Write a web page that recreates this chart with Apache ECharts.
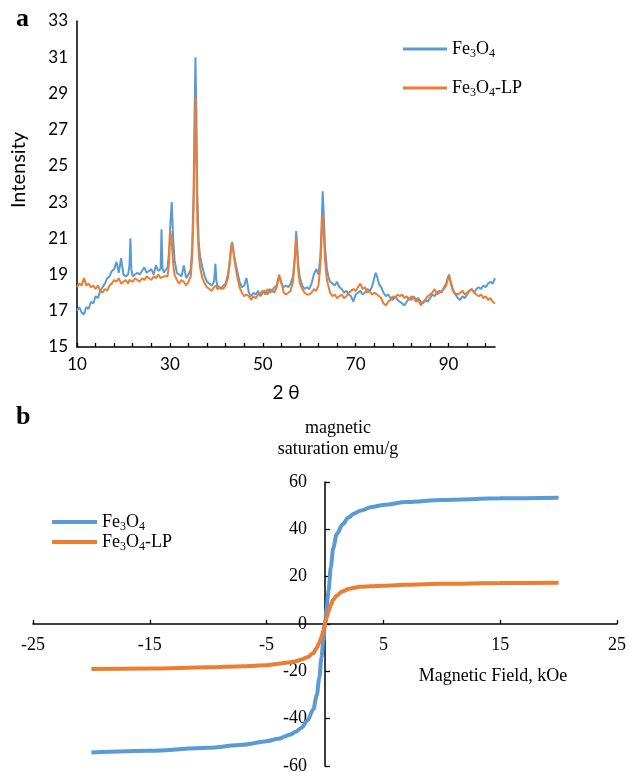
<!DOCTYPE html>
<html>
<head>
<meta charset="utf-8">
<script src="https://cdn.jsdelivr.net/npm/echarts@6/dist/echarts.min.js"></script>
<style>
html,body{margin:0;padding:0;background:#fff;}
#chart{width:629px;height:772px;}
</style>
</head>
<body>
<div id="chart"></div>
<script>
// ---------- Panel a : XRD ----------
const xrdTheta = [
  10,10.5,11,11.5,12,12.5,13,13.5,14,14.5,15,15.5,16,16.5,17,17.5,18,18.5,19,19.5,
  20,20.5,21,21.3,21.5,21.7,22,22.5,23,23.5,24,24.5,25,25.5,26,26.5,27,27.5,28,28.2,28.4,28.7,29,29.5,29.8,
  30.1,30.4,30.7,31,31.5,32,32.5,33,33.5,34,34.5,34.8,35.1,35.3,35.5,35.7,35.9,36.2,36.5,37,37.5,38,38.5,39,39.5,39.8,
  40,40.2,40.5,41,41.5,42,42.5,42.9,43.2,43.4,43.7,44,44.5,45,45.5,46,46.5,47,47.5,48,48.5,49,49.5,
  50,50.5,51,51.5,52,52.5,53,53.5,54,54.5,55,55.5,56,56.5,56.9,57.2,57.4,57.7,58,58.5,59,59.5,
  60,60.5,61,61.5,62,62.4,62.7,62.9,63.1,63.4,63.8,64.2,64.5,65,65.5,66,66.5,67,67.5,68,68.5,69,69.5,
  70,70.5,71,71.5,72,72.5,73,73.5,74,74.3,74.6,75,75.5,76,76.5,77,77.5,78,78.5,79,79.5,
  80,80.5,81,81.5,82,82.5,83,83.5,84,84.5,85,85.5,86,86.5,87,87.5,88,88.5,89,89.5,89.8,
  90.1,90.4,90.8,91.2,91.5,92,92.5,93,93.5,94,94.5,95,95.5,96,96.5,97,97.5,98,98.5,99,99.5,100
];
const xrdFe3O4 = [
  17.0,17.2,16.9,16.8,17.2,17.1,17.5,17.4,17.8,17.7,18.1,18.3,18.5,18.8,18.9,19.2,19.3,19.7,19.1,19.9,
  19.0,18.9,19.0,19.5,21.0,19.3,18.9,19.0,19.1,19.0,19.2,19.4,19.1,19.2,19.3,19.0,19.5,19.2,19.3,21.5,19.4,19.1,19.2,19.4,20.2,
  21.8,23.0,21.0,19.8,19.1,19.0,18.9,19.5,18.8,19.0,19.3,20.5,23.5,27.5,31.0,28.0,23.5,20.8,20.0,19.4,18.9,18.6,18.5,18.4,18.6,19.6,
  18.7,18.4,18.3,18.2,18.4,18.5,19.0,19.8,20.6,20.8,20.3,19.8,19.2,18.6,18.3,18.4,18.8,18.0,17.8,18.0,17.9,18.1,17.8,
  18.0,18.1,17.9,18.2,18.1,18.3,18.4,18.9,18.5,18.3,18.4,18.3,18.5,18.9,20.0,21.4,20.6,19.4,18.8,18.4,18.2,18.3,
  18.2,18.5,19.0,19.3,19.0,20.0,22.0,23.6,22.5,20.5,19.3,18.8,18.6,18.5,18.4,18.6,18.3,18.2,18.0,18.1,17.9,17.8,17.5,
  17.9,18.0,18.1,17.9,18.0,18.2,18.1,18.3,18.8,19.1,18.9,18.5,18.3,18.0,17.8,17.9,17.7,17.6,17.8,17.6,17.5,
  17.4,17.3,17.5,17.7,17.6,17.8,17.6,17.7,17.5,17.4,17.6,17.5,17.7,17.9,17.8,18.0,18.1,18.0,18.3,18.5,18.8,
  19.0,18.7,18.3,18.0,17.9,17.7,17.6,17.8,17.7,17.9,18.1,18.2,18.0,18.2,18.3,18.2,18.4,18.3,18.5,18.6,18.5,18.8
];
const xrdFe3O4LP = [
  18.3,18.5,18.4,18.8,18.4,18.5,18.3,18.4,18.2,18.4,18.1,18.0,18.2,18.1,18.4,18.5,18.7,18.6,18.8,18.5,
  18.6,18.7,18.5,18.7,18.6,18.8,18.6,18.8,18.7,18.6,18.8,18.7,18.9,18.8,18.7,18.9,18.8,19.0,18.8,18.9,18.7,18.9,18.8,18.9,19.6,
  21.4,20.8,19.6,19.0,18.7,18.5,18.7,18.6,18.4,18.6,18.9,20.0,22.5,26.0,28.8,25.5,22.0,20.2,19.4,18.8,18.5,18.3,18.2,18.1,18.3,18.2,
  18.4,18.2,18.1,18.3,18.2,18.4,18.8,19.6,20.5,20.7,20.2,19.6,18.9,18.3,18.0,17.8,17.9,17.8,17.6,17.8,17.7,17.9,18.0,
  18.1,17.9,18.2,18.0,18.1,18.0,18.3,19.0,18.6,18.0,17.9,18.0,18.1,18.6,19.8,21.0,20.2,19.0,18.5,18.2,18.0,17.9,
  17.9,18.0,18.2,18.1,18.4,19.5,21.3,22.3,21.4,19.8,18.7,18.3,18.0,17.8,17.9,17.7,17.8,17.9,17.7,17.8,18.0,18.1,18.2,
  18.1,18.3,18.5,18.2,18.3,18.0,18.1,17.9,18.0,18.1,17.9,18.0,17.7,17.4,17.3,17.5,17.6,17.8,17.7,17.9,17.8,
  17.9,17.7,17.8,17.6,17.8,17.7,17.5,17.6,17.3,17.5,17.6,17.8,17.9,18.0,18.2,17.9,18.0,18.1,18.2,18.4,18.7,
  18.9,18.6,18.2,18.0,18.1,17.9,18.0,18.1,17.9,18.0,18.1,18.2,18.0,17.9,17.8,17.9,17.7,17.8,17.6,17.7,17.5,17.4
];
const xrdXLabels = [10,30,50,70,90];
const xrdXTicks = [10,14,18,22,26,30,34,38,42,46,50,54,58,62,66,70,74,78,82,86,90,94,98];
const xrdYLabels = [15,17,19,21,23,25,27,29,31,33];

// ---------- Panel b : magnetization ----------
const fieldKOe = [-20,-15,-10,-7,-5,-4,-3,-2.5,-2,-1.5,-1,-0.7,-0.5,-0.3,-0.15,0,0.15,0.3,0.5,0.7,1,1.5,2,2.5,3,4,5,7,10,15,20];
const magFe3O4 = [-54.3,-53.6,-52.3,-51.0,-49.5,-48.5,-46.8,-45.5,-43.8,-40.8,-36,-30,-23,-14,-7,0,7,14,24,32,38,42,45,46.7,47.8,49.4,50.3,51.5,52.4,53.1,53.3];
const magFe3O4LP = [-19.0,-18.8,-18.3,-17.8,-17.4,-16.8,-16.2,-15.7,-15.0,-14.0,-12.3,-10.0,-8.0,-5.5,-2.8,0,2.8,5.3,8,10.2,12,13.8,14.8,15.3,15.7,16.0,16.2,16.6,17.0,17.3,17.4];
const magXLabels = [-25,-15,-5,5,15,25];

const BLUE = '#5B9BD5', ORANGE = '#ED7D31';
const SANS = 'Lato, "Noto Sans", sans-serif';
const SERIF = '"Liberation Serif", "Times New Roman", serif';

const richLegend = {
  n: {fontFamily: SERIF, fontSize: 18, color: '#000', lineHeight: 22},
  s: {fontFamily: SERIF, fontSize: 12, color: '#000', lineHeight: 12, verticalAlign: 'bottom'}
};
function legendFmt(name) {
  return name === 'Fe3O4' ? '{n|Fe}{s|3}{n|O}{s|4}' : '{n|Fe}{s|3}{n|O}{s|4}{n|-LP}';
}

// panel b grid geometry (zero of both axes lies at the centre of the grid)
const gB = {left: 33, top: 482, width: 584, height: 284};

const chart = echarts.init(document.getElementById('chart'), null, {renderer: 'canvas'});
chart.setOption({
  animation: false,
  backgroundColor: '#fff',
  legend: [
    {
      data: ['Fe3O4', 'Fe3O4-LP'], orient: 'vertical', left: 403, top: 40, padding: 0,
      icon: 'rect', itemWidth: 44, itemHeight: 3, itemGap: 19,
      formatter: legendFmt, textStyle: {rich: richLegend}, selectedMode: false
    },
    {
      data: ['Fe3O4', 'Fe3O4-LP'], orient: 'vertical', left: 52, top: 513, padding: 0,
      icon: 'rect', itemWidth: 45, itemHeight: 4, itemGap: 0,
      formatter: legendFmt, textStyle: {rich: richLegend}, selectedMode: false
    }
  ],
  graphic: [
    {type: 'text', left: 16, top: 6, style: {text: 'a', font: 'bold 26px ' + SERIF, fill: '#000'}},
    {type: 'text', left: 16, top: 404, style: {text: 'b', font: 'bold 26px ' + SERIF, fill: '#000'}},
    {type: 'text', x: 493, y: 676, style: {text: 'Magnetic Field, kOe', font: '18px ' + SERIF, fill: '#000', align: 'center', verticalAlign: 'middle'}}
  ],
  grid: [
    {left: 77, top: 21, width: 418, height: 326, containLabel: false, outerBoundsMode: 'none'},
    Object.assign({containLabel: false, outerBoundsMode: 'none'}, gB)
  ],
  xAxis: [
    {
      gridIndex: 0, type: 'value', min: 10, max: 100,
      name: '2 θ', nameLocation: 'middle', nameGap: 36,
      nameTextStyle: {fontFamily: SANS, fontSize: 19, color: '#000'},
      axisLine: {onZero: false, lineStyle: {color: '#000', width: 1.5}},
      axisTick: {inside: true, length: 4, customValues: xrdXTicks, lineStyle: {color: '#000', width: 1.3}},
      axisLabel: {customValues: xrdXLabels, margin: 9, fontFamily: SANS, fontSize: 17, color: '#000'},
      splitLine: {show: false}
    },
    {
      gridIndex: 1, type: 'value', min: -25, max: 25, position: 'bottom',
      offset: -gB.height / 2,
      axisLine: {show: true, onZero: false, lineStyle: {color: '#000', width: 1.5}},
      axisTick: {inside: true, length: 4, customValues: magXLabels, lineStyle: {color: '#000', width: 1.3}},
      axisLabel: {customValues: magXLabels, margin: 12, fontFamily: SERIF, fontSize: 18, color: '#000'},
      splitLine: {show: false}
    }
  ],
  yAxis: [
    {
      gridIndex: 0, type: 'value', min: 15, max: 33,
      name: 'Intensity', nameLocation: 'middle', nameRotate: 90, nameGap: 48,
      nameTextStyle: {fontFamily: SANS, fontSize: 20, color: '#000', padding: [0, 0, 0, 28]},
      axisLine: {show: true, onZero: false, lineStyle: {color: '#000', width: 1.5}},
      axisTick: {show: false},
      axisLabel: {customValues: xrdYLabels, margin: 9, fontFamily: SANS, fontSize: 17, color: '#000'},
      splitLine: {show: false}
    },
    {
      gridIndex: 1, type: 'value', min: -60, max: 60, interval: 20, position: 'left',
      offset: -gB.width / 2,
      name: 'magnetic\nsaturation emu/g', nameLocation: 'end', nameGap: 22,
      nameTextStyle: {fontFamily: SERIF, fontSize: 18, lineHeight: 21, color: '#000', align: 'center', padding: [0, 0, 0, 26]},
      axisLine: {show: true, onZero: false, lineStyle: {color: '#000', width: 1.5}},
      axisTick: {show: true, inside: true, length: 5, lineStyle: {color: '#000', width: 1.3}},
      axisLabel: {margin: 18, fontFamily: SERIF, fontSize: 18, color: '#000'},
      splitLine: {show: false}
    }
  ],
  series: [
    {
      name: 'Fe3O4', type: 'line', xAxisIndex: 0, yAxisIndex: 0, showSymbol: false,
      data: xrdTheta.map((t, i) => [t, xrdFe3O4[i]]),
      lineStyle: {color: BLUE, width: 2}, itemStyle: {color: BLUE}
    },
    {
      name: 'Fe3O4-LP', type: 'line', xAxisIndex: 0, yAxisIndex: 0, showSymbol: false,
      data: xrdTheta.map((t, i) => [t, xrdFe3O4LP[i]]),
      lineStyle: {color: ORANGE, width: 2}, itemStyle: {color: ORANGE}
    },
    {
      name: 'Fe3O4', type: 'line', xAxisIndex: 1, yAxisIndex: 1, showSymbol: false,
      smooth: 0.3, smoothMonotone: 'x',
      data: fieldKOe.map((h, i) => [h, magFe3O4[i]]),
      lineStyle: {color: BLUE, width: 4}, itemStyle: {color: BLUE}
    },
    {
      name: 'Fe3O4-LP', type: 'line', xAxisIndex: 1, yAxisIndex: 1, showSymbol: false,
      smooth: 0.3, smoothMonotone: 'x',
      data: fieldKOe.map((h, i) => [h, magFe3O4LP[i]]),
      lineStyle: {color: ORANGE, width: 4}, itemStyle: {color: ORANGE}
    }
  ]
});
</script>
</body>
</html>
